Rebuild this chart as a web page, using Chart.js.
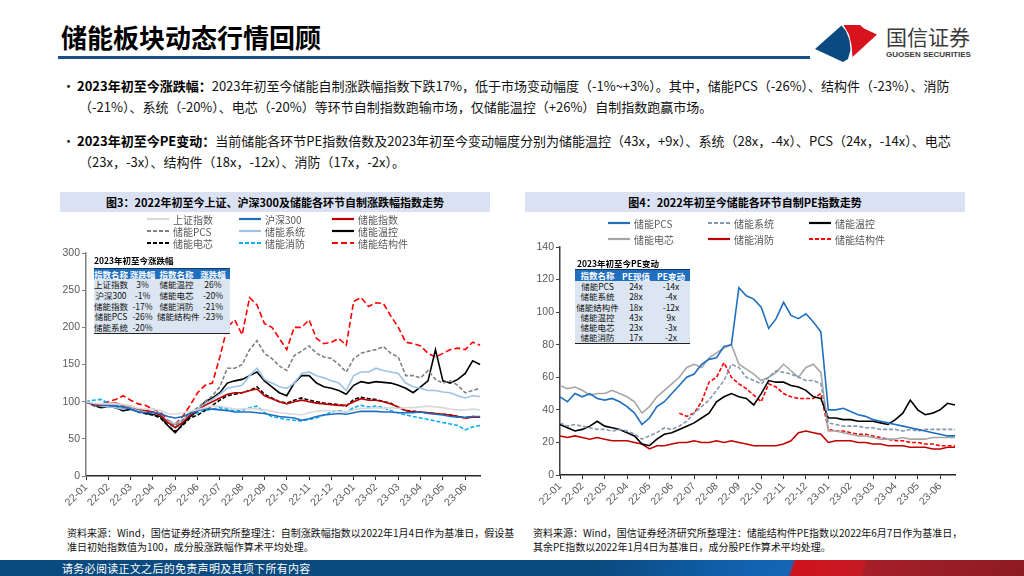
<!DOCTYPE html>
<html lang="zh-CN">
<head>
<meta charset="utf-8">
<title>储能板块动态行情回顾</title>
<script src="https://cdn.jsdelivr.net/npm/chart.js@4.4.1/dist/chart.umd.min.js"></script>
<style>
html,body{margin:0;padding:0;}
body{width:1024px;height:576px;position:relative;overflow:hidden;background:#fff;font-family:"Noto Sans CJK SC","Noto Sans","DejaVu Sans",sans-serif;color:#000;}
.a{position:absolute;white-space:nowrap;}
#title{left:61px;top:19px;font-size:26px;font-weight:700;line-height:36px;}
#rule{left:58px;top:56px;width:752px;height:3px;background:#1c4e8a;}
.bl{font-size:13px;line-height:20px;color:#111;}
.bl b{font-weight:700;color:#000;}
.hdr{height:20px;line-height:20px;background:#d9e1f2;text-align:center;font-size:11px;font-weight:700;color:#000;}
.lg{position:absolute;display:grid;font-size:10px;color:#595959;}
.lg .it{display:flex;align-items:center;white-space:nowrap;}
.lg svg{margin-right:4px;flex:none;}
.src{font-size:10px;line-height:14px;color:#111;}
.tt{font-size:8.5px;font-weight:700;line-height:11px;}
table.t{position:absolute;border-collapse:collapse;table-layout:fixed;font-size:8.5px;background:#dce6f2;border-bottom:1.5px solid #222;}
table.t th{background:#1f6fc0;color:#fff;font-weight:700;padding:0;height:10px;line-height:10px;border-top:1px solid #17375e;text-align:center;white-space:nowrap;}
table.t td{padding:0;text-align:center;white-space:nowrap;color:#111;}
#foot{left:0;top:560px;width:1024px;height:16px;background:linear-gradient(108deg,#0a4a7e 0%,#0a4a7e 58%,#0f5ea9 70%,#1467b6 77%,#d0121c 77.4%,#c51a24 84%,#a51f29 84.4%,#8d1b23 100%);}
#foot span{position:absolute;left:62px;top:0;line-height:16px;font-size:11px;color:#fff;letter-spacing:0.3px;}
canvas{position:absolute;}
</style>
</head>
<body>
<div id="title" class="a">储能板块动态行情回顾</div>
<div id="rule" class="a"></div>
<svg class="a" style="left:810px;top:20px" width="72" height="46" viewBox="810 20 72 46">
  <polygon fill="#0b4a80" points="815,49 841.5,25.5 846,31 849.5,40 850.5,50 848,59 843,62"/>
  <polygon fill="#d7141d" points="843.5,25 860,25 864,28.5 877,34.5 852.5,57 851.5,45 849,34.5"/>
</svg>
<div class="a" style="left:886px;top:23px;font-size:21px;line-height:26px;color:#3a3a3a;">国信证券</div>
<div class="a" style="left:886px;top:50px;font-size:8px;line-height:10px;font-weight:700;color:#3a3a3a;font-family:'Liberation Sans',Arial,sans-serif;">GUOSEN SECURITIES</div>

<div class="a bl" style="left:62px;top:76px">•</div>
<div class="a bl" style="left:77px;top:76px"><b>2023年初至今涨跌幅：</b>2023年初至今储能自制涨跌幅指数下跌17%，低于市场变动幅度（-1%~+3%）。其中，储能PCS（-26%）、结构件（-23%）、消防</div>
<div class="a bl" style="left:79px;top:97px">（-21%）、系统（-20%）、电芯（-20%）等环节自制指数跑输市场，仅储能温控（+26%）自制指数跑赢市场。</div>
<div class="a bl" style="left:62px;top:131px">•</div>
<div class="a bl" style="left:77px;top:131px"><b>2023年初至今PE变动：</b>当前储能各环节PE指数倍数及2023年初至今变动幅度分别为储能温控（43x，+9x）、系统（28x，-4x）、PCS（24x，-14x）、电芯</div>
<div class="a bl" style="left:79px;top:152px">（23x，-3x）、结构件（18x，-12x）、消防（17x，-2x）。</div>

<div class="a hdr" style="left:60px;top:192px;width:430px;">图3：2022年初至今上证、沪深300及储能各环节自制涨跌幅指数走势</div>
<div class="a hdr" style="left:525px;top:192px;width:440px;">图4：2022年初至今储能各环节自制PE指数走势</div>

<canvas id="c1" width="440" height="282" style="left:50px;top:240px;width:440px;height:282px;"></canvas>
<canvas id="c2" width="449" height="280" style="left:516px;top:235px;width:449px;height:280px;"></canvas>

<div id="lg1" class="lg" style="left:147px;top:213px;grid-template-columns:92px 93px 100px;grid-auto-rows:12px;"></div>
<div id="lg2" class="lg" style="left:608px;top:215px;grid-template-columns:100px 101px 110px;grid-auto-rows:16px;"></div>

<div class="a tt" style="left:94px;top:255px;">2023年初至今涨跌幅</div>
<table id="t1" class="t" style="left:94px;top:268px;width:136px;">
  <colgroup><col style="width:34px"><col style="width:29px"><col style="width:39px"><col style="width:34px"></colgroup>
</table>
<div class="a tt" style="left:577px;top:258px;">2023年初至今PE变动</div>
<table id="t2" class="t" style="left:575px;top:269px;width:115px;">
  <colgroup><col style="width:45px"><col style="width:32px"><col style="width:38px"></colgroup>
</table>

<div class="a src" style="left:67px;top:526px;">资料来源：Wind，国信证券经济研究所整理注：自制涨跌幅指数以2022年1月4日作为基准日，假设基<br>准日初始指数值为100，成分股涨跌幅作算术平均处理。</div>
<div class="a src" style="left:533px;top:526px;">资料来源：Wind，国信证券经济研究所整理注：储能结构件PE指数以2022年6月7日作为基准日，<br>其余PE指数以2022年1月4日为基准日，成分股PE作算术平均处理。</div>

<div id="foot" class="a"><span>请务必阅读正文之后的免责声明及其项下所有内容</span></div>

<script>
// ---- time axis: 18 months, three readings per month ----
const months = ['22-01','22-02','22-03','22-04','22-05','22-06','22-07','22-08','22-09','22-10','22-11','22-12','23-01','23-02','23-03','23-04','23-05','23-06'];
const perMonth = 3;

// ---- Fig.3: change index (base 100 on 2022-01-04) ----
const shIdx  = [100,98,97, 97,97,96, 94,91,90, 90,88,84, 83,85,87, 89,92,94, 94,92,90, 90,91,90, 89,87,85, 84,83,82, 85,87,88, 88,87,86, 89,91,91, 92,91,92, 91,92,92, 93,94,93, 92,90,89, 89,90,89];
const hs300  = [100,97,96, 95,94,93, 90,86,85, 86,84,80, 78,80,84, 88,90,90, 89,88,86, 86,86,85, 84,82,80, 79,78,75, 77,80,82, 83,84,83, 85,87,87, 87,86,86, 85,85,85, 86,84,83, 82,80,79, 79,80,80];
const esIdx  = [100,96,95, 97,98,95, 94,90,88, 86,82,72, 65,72,82, 88,95,100, 105,110,112, 112,115,117, 108,104,100, 97,100,102, 100,98,97, 96,95,95, 100,104,102, 102,100,97, 93,88,86, 86,85,84, 83,82,80, 78,79,79];
const esPcs  = [100,97,95, 95,94,92, 93,90,88, 86,82,72, 68,75,85, 92,100,108, 120,145,145, 150,170,182, 165,158,148, 142,162,168, 175,165,160, 158,150,140, 158,165,168, 170,174,165, 160,135,135, 132,142,130, 125,128,122, 112,115,118];
const esSys  = [100,96,94, 93,92,90, 92,88,86, 85,82,74, 70,76,85, 90,97,103, 110,118,120, 122,135,145, 130,125,120, 118,125,138, 140,135,132, 128,125,115, 135,140,140, 145,142,140, 138,125,120, 118,115,115, 113,112,108, 105,108,107];
const esTemp = [100,96,92, 94,92,88, 90,88,84, 83,80,68, 58,70,80, 88,100,105, 112,125,128, 130,135,140, 128,120,112, 108,125,135, 135,125,120, 118,115,110, 122,127,125, 127,126,125, 122,118,112, 120,128,170, 128,125,130, 138,155,150];
const esCell = [100,95,92, 93,92,88, 90,86,84, 82,78,68, 60,68,78, 82,88,95, 102,108,110, 112,115,120, 110,105,100, 98,102,105, 102,100,98, 97,96,94, 103,106,104, 103,100,98, 92,88,87, 86,85,84, 83,82,80, 78,80,79];
const esFire = [100,102,103, 98,95,93, 90,87,84, 82,80,70, 66,72,80, 85,88,90, 92,90,88, 88,92,94, 85,80,78, 76,75,74, 76,78,82, 86,88,86, 92,95,93, 94,92,88, 85,82,80, 78,76,74, 72,70,68, 62,66,68];
const esStru = [100,97,96, 100,103,108, 102,97,95, 90,86,75, 70,80,95, 112,122,125, 160,200,210, 190,240,230, 205,200,185, 170,200,200, 210,185,178, 180,185,176, 235,240,228, 233,232,215, 200,180,178, 175,165,160, 165,170,172, 170,180,176];
const yTicks1 = {min:0, max:300, step:50};

// ---- Fig.4: PE index ----
const pePcs  = [48,45,50, 48,50,47, 46,47,45, 42,38,31, 35,42,45, 50,55,60, 62,68,71, 72,79,80, 115,110,108, 103,90,96, 106,98,96, 99,94,88, 40,40,41, 39,37,36, 34,33,32, 31,30,29, 28,27,26, 25,24,24];
const peSys  = [32,30,31, 30,29,28, 28,27,28, 27,25,22, 24,26,29, 28,30,33, 38,42,46, 52,58,68, 66,60,58, 56,60,64, 63,62,60, 58,58,56, 32,31,30, 30,30,29, 29,28,28, 28,27,28, 27,28,28, 28,28,28];
const peTemp = [31,29,27, 28,30,33, 30,29,28, 26,24,19, 18,22,25, 26,28,30, 32,35,38, 45,48,50, 48,47,43, 50,58,57, 57,55,54, 52,48,47, 35,35,34, 34,33,33, 33,32,31, 34,38,46, 40,37,38, 40,44,43];
const peCell = [55,53,54, 52,49,50, 50,52,50, 48,45,38, 42,48,52, 56,60,66, 68,66,72, 75,78,80, 68,65,62, 58,60,63, 68,64,60, 66,68,63, 27,27,26, 25,24,24, 23,22,22, 22,23,22, 22,22,23, 23,23,23];
const peFire = [24,23,24, 23,22,23, 22,21,21, 21,20,19, 16,18,18, 19,20,20, 21,20,20, 21,20,21, 20,19,18, 18,18,18, 19,21,26, 27,26,25, 20,21,21, 21,20,20, 19,19,18, 18,18,17, 17,17,16, 16,17,17];
const peStru = [null,null,null, null,null,null, null,null,null, null,null,null, null,null,null, null,38,36, 38,45,57, 60,69,60, 56,53,49, 45,56,54, 50,48,47, 47,47,50, 28,27,27, 26,25,25, 24,23,22, 21,21,20, 20,19,19, 18,18,18];
const yTicks2 = {min:0, max:140, step:20};

// ---- inset tables ----
const ytdNamesA = ['上证指数','沪深300','储能指数','储能PCS','储能系统'];
const ytdValsA  = ['3%','-1%','-17%','-26%','-20%'];
const ytdNamesB = ['储能温控','储能电芯','储能消防','储能结构件'];
const ytdValsB  = ['26%','-20%','-21%','-23%'];
const peNames = ['储能PCS','储能系统','储能结构件','储能温控','储能电芯','储能消防'];
const peNow   = ['24x','28x','18x','43x','23x','17x'];
const peChg   = ['-14x','-4x','-12x','9x','-3x','-2x'];

// ---- series definitions (style kept apart from the values) ----
const series1 = [
  {name:'上证指数', data:shIdx,  color:'#d9d9d9', dash:[]},
  {name:'沪深300',  data:hs300,  color:'#1f6fc0', dash:[]},
  {name:'储能指数', data:esIdx,  color:'#c00000', dash:[]},
  {name:'储能PCS',  data:esPcs,  color:'#808080', dash:[4,2]},
  {name:'储能系统', data:esSys,  color:'#9dc3e6', dash:[]},
  {name:'储能温控', data:esTemp, color:'#000000', dash:[]},
  {name:'储能电芯', data:esCell, color:'#000000', dash:[4,2]},
  {name:'储能消防', data:esFire, color:'#00b0f0', dash:[4,2]},
  {name:'储能结构件', data:esStru, color:'#ff0000', dash:[6,3]}
];
const series2 = [
  {name:'储能PCS',  data:pePcs,  color:'#1f6fc0', dash:[]},
  {name:'储能系统', data:peSys,  color:'#8497b0', dash:[4,2]},
  {name:'储能温控', data:peTemp, color:'#000000', dash:[]},
  {name:'储能电芯', data:peCell, color:'#a6a6a6', dash:[]},
  {name:'储能消防', data:peFire, color:'#c00000', dash:[]},
  {name:'储能结构件', data:peStru, color:'#ff0000', dash:[4,2]}
];

const labels = [];
months.forEach(m => { for (let k = 0; k < perMonth; k++) labels.push(k === 0 ? m : ''); });

function buildLegend(id, series) {
  const box = document.getElementById(id);
  series.forEach(s => {
    const it = document.createElement('div');
    it.className = 'it';
    const da = s.dash.length ? s.dash.join(' ') : 'none';
    it.innerHTML = '<svg width="22" height="4"><line x1="0" y1="2" x2="22" y2="2" stroke="' + s.color +
      '" stroke-width="2.2" stroke-dasharray="' + da + '"/></svg><span>' + s.name + '</span>';
    box.appendChild(it);
  });
}
buildLegend('lg1', series1);
buildLegend('lg2', series2);

function buildTable1() {
  const t = document.getElementById('t1');
  let h = '<tr><th>指数名称</th><th>涨跌幅</th><th>指数名称</th><th>涨跌幅</th></tr>';
  for (let i = 0; i < ytdNamesA.length; i++) {
    h += '<tr style="height:10.8px;line-height:10.8px"><td>' + ytdNamesA[i] + '</td><td>' + ytdValsA[i] + '</td><td>' +
      (ytdNamesB[i] || '') + '</td><td>' + (ytdValsB[i] || '') + '</td></tr>';
  }
  t.insertAdjacentHTML('beforeend', h);
}
function buildTable2() {
  const t = document.getElementById('t2');
  let h = '<tr><th style="height:11px;line-height:11px">指数名称</th><th>PE现值</th><th>PE变动</th></tr>';
  for (let i = 0; i < peNames.length; i++) {
    h += '<tr style="height:10.3px;line-height:10.3px"><td>' + peNames[i] + '</td><td>' + peNow[i] + '</td><td>' + peChg[i] + '</td></tr>';
  }
  t.insertAdjacentHTML('beforeend', h);
}
buildTable1();
buildTable2();

const tickFont = {family:"'Liberation Sans', Arial, sans-serif", size:10.5};

function makeChart(id, series, yt, yWidth, xHeight, pad, yAxisColor, xAxisColor) {
  return new Chart(document.getElementById(id), {
    type: 'line',
    data: {
      labels: labels,
      datasets: series.map(s => ({
        label: s.name, data: s.data, borderColor: s.color, backgroundColor: s.color,
        borderDash: s.dash, borderWidth: 1.6, pointRadius: 0, tension: 0, fill: false, spanGaps: false
      }))
    },
    options: {
      responsive: false, animation: false,
      layout: {padding: pad},
      plugins: {legend: {display: false}, tooltip: {enabled: false}},
      scales: {
        x: {
          type: 'category',
          grid: {drawOnChartArea: false, drawTicks: true, tickLength: 4, lineWidth: 1,
                 color: ctx => (labels[ctx.index] ? xAxisColor : 'rgba(0,0,0,0)')},
          border: {display: true, color: xAxisColor, width: 1.5},
          ticks: {autoSkip: false, maxRotation: 45, minRotation: 45, padding: 1, color: '#595959', font: tickFont,
                  callback: (v, i) => labels[i]},
          afterFit: s => { s.height = xHeight; }
        },
        y: {
          min: yt.min, max: yt.max,
          grid: {drawOnChartArea: false, drawTicks: true, tickLength: 4, color: yAxisColor, lineWidth: 1},
          border: {display: true, color: yAxisColor, width: 1.5},
          ticks: {stepSize: yt.step, padding: 2, color: '#595959', font: tickFont},
          afterFit: s => { s.width = yWidth; }
        }
      }
    }
  });
}

makeChart('c1', series1, yTicks1, 36, 46, {top: 13, right: 6, left: 0, bottom: 0}, '#808080', '#262626');
makeChart('c2', series2, yTicks2, 44, 40, {top: 12, right: 10, left: 0, bottom: 0}, '#404040', '#262626');
</script>
</body>
</html>
